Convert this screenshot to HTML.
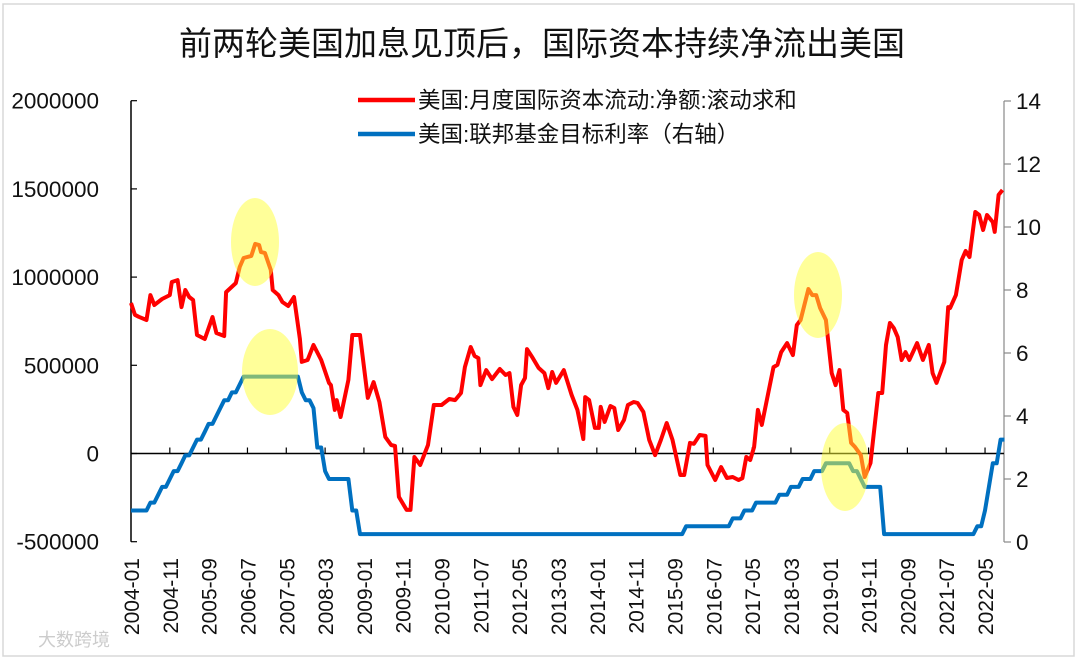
<!DOCTYPE html>
<html><head><meta charset="utf-8">
<style>
html,body{margin:0;padding:0;background:#fff;}
svg{display:block;font-family:"Liberation Sans","Noto Sans CJK SC",sans-serif;}
</style></head>
<body>
<svg id="chart" width="1080" height="664" viewBox="0 0 1080 664" xmlns="http://www.w3.org/2000/svg">
<rect x="3" y="4" width="1071" height="652" fill="#fff" stroke="#d8d8d8" stroke-width="1.5"/>
<text x="542" y="55" text-anchor="middle" font-size="33" fill="#111">前两轮美国加息见顶后，国际资本持续净流出美国</text>
<g>
<line x1="358" y1="100" x2="415" y2="100" stroke="#ff0000" stroke-width="4.5"/>
<text x="418" y="108" font-size="22.5" fill="#111">美国:月度国际资本流动:净额:滚动求和</text>
<line x1="358" y1="134" x2="415" y2="134" stroke="#0070c0" stroke-width="4.5"/>
<text x="418" y="142" font-size="22.5" fill="#111">美国:联邦基金目标利率（右轴）</text>
</g>
<g id="axes"></g>
<g id="series"></g>
<g id="highlights"></g>
<text x="38" y="646" font-size="18" fill="#ccc">大数跨境</text>
</svg>
<script>
// Net capital flow (rolling sum), months since 2004-01
const flowMonths = [0,1,2,4,5,6,8,10,10.5,12,13,14,15,16,17,19,21,22,24,24.5,27,28,29,31,32,33,33.5,34.5,36,36.5,38,39,40.5,42,43.5,44,45.5,47,49,51,51.5,52.5,53,54,56,57,59,61,62.5,64,65.5,67,68,69,71,72,73,74.5,76.5,78,80,82,83.5,85,86,87.5,88.5,89.5,90,91.5,93,95,96.5,97.5,98.5,99.5,100.5,101.5,102,103.5,105,106.5,107.5,108.5,109.5,111.5,113.5,115,116.5,117,118,119.5,120.5,121,122,123.5,124.5,125.5,127,128,129.5,130.5,132,133.5,135,136.5,138,139.5,141.5,142.5,144,145,146.5,148,148.5,150.5,152,153.5,155,156.5,157.5,158.5,159.5,160.5,161.5,162.5,165.5,166.5,167.5,169,170.5,171.5,172.5,174.5,175.5,176.5,177.5,179,180.5,181.5,182.5,183.5,184.5,185.5,186.5,188,189,190.5,192.5,193.5,194.5,195.5,196.5,197.5,198.5,199.5,200.5,202.5,204,205.5,206.5,207.5,209.5,210.5,211,212.5,214,215,216,217.5,218.5,219.5,220.5,222,222.5,223.5,224.5];
const flowValues = [853,786,775,757,898,842,876,898,972,983,830,927,887,870,672,649,774,683,666,915,966,1057,1108,1120,1188,1182,1142,1137,1040,927,898,859,836,887,649,519,530,615,530,400,388,247,303,207,417,672,672,315,405,292,94,48,43,-246,-320,-320,-20,-65,48,275,275,309,303,343,490,604,553,541,388,473,422,479,445,456,264,218,388,428,592,541,485,456,371,462,400,473,332,247,82,320,303,145,145,264,179,269,258,133,190,275,292,286,235,77,-9,77,173,77,-122,-122,60,55,105,100,-65,-150,-77,-139,-133,-150,-140,-20,-37,37,247,162,490,502,575,626,558,728,757,932,898,898,825,757,456,388,473,247,230,60,37,-9,-133,-54,343,343,615,740,711,660,530,575,530,626,530,615,456,400,519,830,825,898,1097,1148,1114,1369,1352,1267,1352,1312,1256,1466,1494];
// Fed funds target rate (upper), change points: month index and new rate
const fedMonths = [5,7,8,10,11,13,14,16,17,19,20,22,23,24,26,28,29,44,45,47,48,50,51,57,59,143,155,158,161,167,170,173,176,179,186,188,189,194,218,220,221,222,224];
const fedRates = [1.25,1.5,1.75,2.0,2.25,2.5,2.75,3.0,3.25,3.5,3.75,4.0,4.25,4.5,4.75,5.0,5.25,4.75,4.5,4.25,3.0,2.25,2.0,1.0,0.25,0.5,0.75,1.0,1.25,1.5,1.75,2.0,2.25,2.5,2.25,2.0,1.75,0.25,0.5,1.0,1.75,2.5,3.25];
const fedStart = 1.0;
const leftTicks = [-500000,0,500000,1000000,1500000,2000000];
const rightTicks = [0,2,4,6,8,10,12,14];
const xTickLabels = ["2004-01","2004-11","2005-09","2006-07","2007-05","2008-03","2009-01","2009-11","2010-09","2011-07","2012-05","2013-03","2014-01","2014-11","2015-09","2016-07","2017-05","2018-03","2019-01","2019-11","2020-09","2021-07","2022-05"];
const lastMonth = 225;

const NS="http://www.w3.org/2000/svg";
const X0=131, MPX=3.882;
const xS = m => X0 + m*MPX;
const yL = v => 453.5 - v/500000*88.2;
const yLk = v => yL(v*1000);
const yR = r => 542 - r*31.5;
function mk(tag, attrs, parent){const e=document.createElementNS(NS,tag);for(const k in attrs)e.setAttribute(k,attrs[k]);parent.appendChild(e);return e;}
const axes=document.getElementById('axes'), series=document.getElementById('series'), hl=document.getElementById('highlights');

let la=mk('line',{x1:X0,y1:yL(2000000),x2:X0,y2:yL(-500000),stroke:'#000','stroke-width':1.5},axes);


leftTicks.forEach(v=>{
  let t=mk('line',{x1:X0,y1:yL(v),x2:X0+6,y2:yL(v),stroke:'#000','stroke-width':1.2},axes);
  
  
  let tx=mk('text',{x:99,y:yL(v)+8,'text-anchor':'end','font-size':22.5,fill:'#111'},axes);
  tx.textContent=String(v);
  
  
});
const XR=1004;
let ra=mk('line',{x1:XR,y1:yR(14),x2:XR,y2:yR(0),stroke:'#888','stroke-width':1.2},axes);


rightTicks.forEach(r=>{
  let t=mk('line',{x1:XR,y1:yR(r),x2:XR+7,y2:yR(r),stroke:'#888','stroke-width':1.2},axes);
  
  
  let tx=mk('text',{x:1016,y:yR(r)+8,'font-size':22.5,fill:'#111'},axes);
  tx.textContent=String(r);
  
  
});
let za=mk('line',{x1:X0,y1:yL(0),x2:XR,y2:yL(0),stroke:'#000','stroke-width':1.5},axes);


xTickLabels.forEach((lab,i)=>{
  const x=xS(i*10);
  if(i>0){let t=mk('line',{x1:x,y1:yL(0)-6,x2:x,y2:yL(0),stroke:'#000','stroke-width':1.2},axes);
  
  }
  let tx=mk('text',{x:0,y:0,'text-anchor':'end','font-size':21,fill:'#111',transform:`translate(${x+8},558) rotate(-90)`},axes);
  tx.textContent=lab;
  
  
});

let d=flowMonths.map((m,i)=>(i?'L':'M')+xS(m).toFixed(1)+','+yLk(flowValues[i]).toFixed(1)).join(' ');
let fl=mk('path',{d:d,fill:'none',stroke:'#ff0000','stroke-width':4,'stroke-linejoin':'round'},series);


let pts=[[0,fedStart]];let cur=fedStart;
fedMonths.forEach((m,i)=>{pts.push([m-1,cur]);cur=fedRates[i];pts.push([m,cur]);});
pts.push([lastMonth,cur]);
let d2=pts.map((p,i)=>(i?'L':'M')+xS(p[0]).toFixed(1)+','+yR(p[1]).toFixed(1)).join(' ');
let fd=mk('path',{d:d2,fill:'none',stroke:'#0070c0','stroke-width':4,'stroke-linejoin':'round'},series);



[[255,242,24,44],[270,372,28,43],[818,295,24,43],[845,467,24,44]].forEach(e=>{
  let el=mk('ellipse',{cx:e[0],cy:e[1],rx:e[2],ry:e[3],fill:'#ffff33','fill-opacity':0.5},hl);
  
  
});
</script>
</body></html>
